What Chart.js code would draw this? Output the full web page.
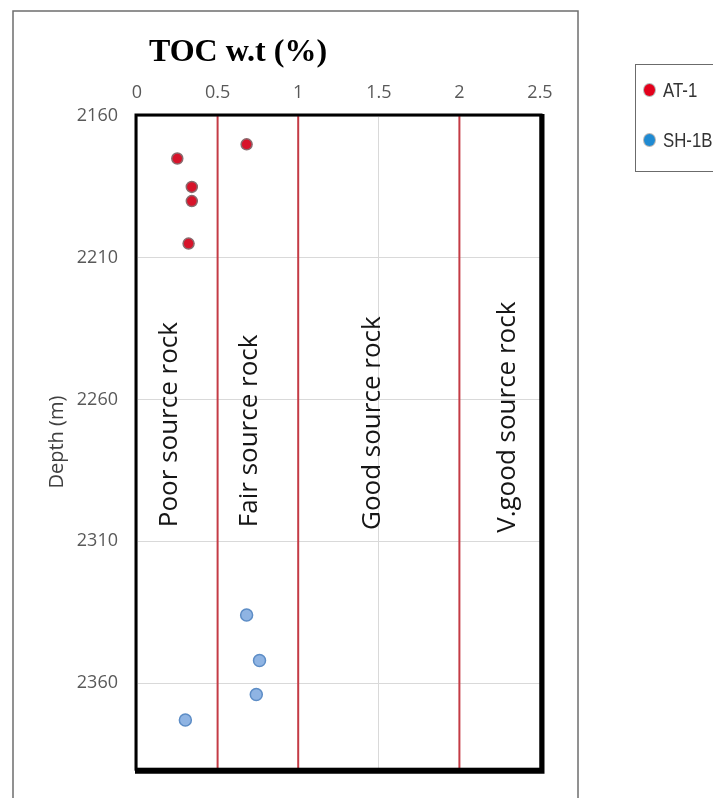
<!DOCTYPE html>
<html>
<head>
<meta charset="utf-8">
<title>TOC w.t (%)</title>
<script src="https://cdn.jsdelivr.net/npm/chart.js@4.4.1/dist/chart.umd.min.js"></script>
<style>
    html, body {
        margin: 0;
        padding: 0;
        background: #ffffff;
        overflow: hidden;
    }

    #wrap {
        position: relative;
        width: 713px;
        height: 798px;
    }

    #toc-chart {
        display: block;
    }

    #legend {
        position: absolute;
        left: 635px;
        top: 64px;
        width: 110px;
        height: 106px;
        border: 1.5px solid #6b6b6b;
        font-family: 'Liberation Sans Narrow', 'Liberation Sans', sans-serif;
        font-size: 21px;
        color: #333333;
    }

    #legend .item {
        position: absolute;
        left: 8px;
        display: flex;
        align-items: center;
        height: 24px;
    }

    #legend .dot {
        width: 11px;
        height: 12px;
        border-radius: 50%;
        margin-right: 8px;
        box-shadow: 0 0 0 1px rgba(90, 90, 90, 0.45);
    }

    #legend .name {
        display: inline-block;
        transform: scaleX(0.8);
        transform-origin: left center;
    }
</style>
</head>
<body>
<div id="wrap">
    <canvas id="toc-chart" width="713" height="798"></canvas>
    <div id="legend"></div>
</div>
<script>
// x axis: TOC (wt %), y axis: depth (m), reversed
const tocTicks = [0, 0.5, 1, 1.5, 2, 2.5];
const depthTicks = [2160, 2210, 2260, 2310, 2360];
const depthMin = 2160;
const depthMax = 2390;

const seriesNames = ['AT-1', 'SH-1B'];

const at1Toc = [0.68, 0.25, 0.34, 0.34, 0.32];
const at1Depth = [2170, 2175, 2185, 2190, 2205];

const sh1bToc = [0.68, 0.76, 0.74, 0.30];
const sh1bDepth = [2336, 2352, 2364, 2373];

// source rock quality cut-offs
const thresholds = [0.5, 1, 2];

const zoneLabels = ['Poor source rock', 'Fair source rock', 'Good source rock', 'V.good source rock'];
const zoneLabelToc = [0.2, 0.7, 1.46, 2.3];
const zoneLabelDepth = [2305, 2305, 2306, 2307];

const legendColors = ['#e3001b', '#1f8ad2'];

function toPoints(xs, ys) {
    return xs.map((x, i) => ({ x, y: ys[i] }));
}

const thresholdSets = thresholds.map((t) => ({
    type: 'line',
    label: `cut-off ${t}`,
    data: [{ x: t, y: depthMin }, { x: t, y: depthMax }],
    borderColor: '#c43b45',
    borderWidth: 2,
    pointRadius: 0,
    showLine: true,
    order: 2,
}));

const outerFrame = {
    id: 'outerFrame',
    beforeDraw(chart) {
        const { ctx } = chart;
        ctx.save();
        ctx.strokeStyle = '#6e6e6e';
        ctx.lineWidth = 1.5;
        ctx.strokeRect(13, 11, 565, 820);
        ctx.restore();
    },
};

const plotFrame = {
    id: 'plotFrame',
    afterDraw(chart) {
        const { ctx, chartArea: a } = chart;
        ctx.save();
        ctx.strokeStyle = '#000000';
        ctx.lineWidth = 3;
        ctx.strokeRect(a.left - 1, a.top - 1, a.right - a.left + 2, a.bottom - a.top + 2);
        ctx.lineWidth = 5;
        ctx.beginPath();
        ctx.moveTo(a.right + 2, a.top - 2);
        ctx.lineTo(a.right + 2, a.bottom + 3);
        ctx.lineTo(a.left - 2, a.bottom + 3);
        ctx.stroke();
        ctx.restore();
    },
};

const zoneText = {
    id: 'zoneText',
    afterDatasetsDraw(chart) {
        const { ctx } = chart;
        const xScale = chart.scales.x;
        const yScale = chart.scales.y;
        ctx.save();
        ctx.font = '26px "Open Sans", sans-serif';
        ctx.fillStyle = '#161616';
        ctx.textAlign = 'left';
        ctx.textBaseline = 'middle';
        zoneLabels.forEach((label, i) => {
            const px = xScale.getPixelForValue(zoneLabelToc[i]);
            const py = yScale.getPixelForValue(zoneLabelDepth[i]);
            ctx.save();
            ctx.translate(px, py);
            ctx.rotate(-Math.PI / 2);
            ctx.fillText(label, 0, 0);
            ctx.restore();
        });
        ctx.restore();
    },
};

const chartTitle = {
    id: 'chartTitle',
    afterDraw(chart) {
        const { ctx, chartArea } = chart;
        ctx.save();
        ctx.font = 'bold 32px "Liberation Serif", "Times New Roman", serif';
        ctx.fillStyle = '#000000';
        ctx.textAlign = 'center';
        ctx.textBaseline = 'middle';
        ctx.fillText('TOC w.t (%)', chartArea.left + 101, 53);
        ctx.restore();
    },
};

const canvas = document.getElementById('toc-chart');

const chart = new Chart(canvas, {
    type: 'scatter',
    data: {
        datasets: [
            {
                label: seriesNames[0],
                data: toPoints(at1Toc, at1Depth),
                backgroundColor: '#d7132a',
                borderColor: '#8a6a6e',
                borderWidth: 1.5,
                pointRadius: 5.5,
                order: 0,
            },
            {
                label: seriesNames[1],
                data: toPoints(sh1bToc, sh1bDepth),
                backgroundColor: '#8fb4e3',
                borderColor: '#5d8dc6',
                borderWidth: 1.5,
                pointRadius: 6,
                order: 0,
            },
            ...thresholdSets,
        ],
    },
    options: {
        responsive: false,
        animation: false,
        devicePixelRatio: 1,
        layout: {
            padding: { left: 30, right: 173, top: 0, bottom: 18 },
        },
        plugins: {
            legend: { display: false },
            tooltip: { enabled: false },
        },
        scales: {
            x: {
                type: 'linear',
                position: 'top',
                min: 0,
                max: 2.5,
                afterBuildTicks(scale) {
                    scale.ticks = tocTicks.map((value) => ({ value }));
                },
                afterFit(scale) {
                    scale.height = 116;
                },
                ticks: {
                    padding: 12,
                    color: '#595959',
                    font: { family: '"Open Sans", sans-serif', size: 18 },
                    callback(value) {
                        return String(value);
                    },
                },
                grid: {
                    color: '#d9d9d9',
                    drawTicks: false,
                },
                border: { display: false },
            },
            y: {
                type: 'linear',
                position: 'left',
                reverse: true,
                min: depthMin,
                max: depthMax,
                afterBuildTicks(scale) {
                    scale.ticks = depthTicks.map((value) => ({ value }));
                },
                afterFit(scale) {
                    scale.width = 107;
                },
                title: {
                    display: true,
                    text: 'Depth (m)',
                    color: '#404040',
                    font: { family: '"Open Sans", sans-serif', size: 20 },
                    padding: { top: 15, bottom: 0 },
                },
                ticks: {
                    padding: 19,
                    color: '#595959',
                    font: { family: '"Open Sans", sans-serif', size: 18 },
                    callback(value) {
                        return String(value);
                    },
                },
                grid: {
                    color: '#d9d9d9',
                    drawTicks: false,
                },
                border: { display: false },
            },
        },
    },
    plugins: [outerFrame, zoneText, plotFrame, chartTitle],
});

// legend box outside the chart frame, built from the two well series
const legendEl = document.getElementById('legend');
seriesNames.forEach((name, i) => {
    const item = document.createElement('div');
    item.className = 'item';
    item.style.top = `${13 + i * 50}px`;
    const dot = document.createElement('span');
    dot.className = 'dot';
    dot.style.background = legendColors[i];
    const text = document.createElement('span');
    text.className = 'name';
    text.textContent = chart.data.datasets[i].label;
    item.appendChild(dot);
    item.appendChild(text);
    legendEl.appendChild(item);
});
</script>
</body>
</html>
